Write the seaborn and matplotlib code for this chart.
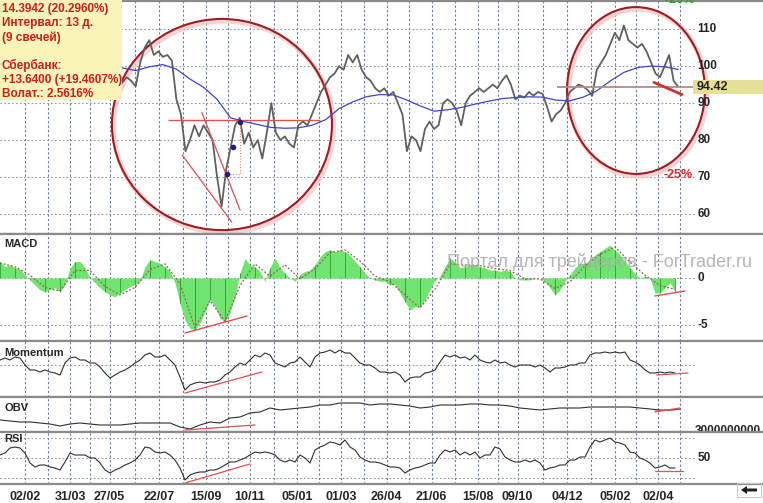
import numpy as np
import matplotlib
matplotlib.use("Agg")
import matplotlib.pyplot as plt
import seaborn as sns
from matplotlib.patches import Ellipse, Rectangle, Polygon

# ---------------- data ----------------
# x axis is in trading sessions (bars); 02/02 is bar 0
date_labels = ["02/02", "31/03", "27/05", "22/07", "15/09", "10/11", "05/01", "01/03",
               "26/04", "21/06", "15/08", "09/10", "04/12", "05/02", "02/04"]
date_ticks = [0, 40, 75, 119, 160, 199, 241, 280, 320, 360, 401, 436, 480, 522, 560]

# close prices, evenly spaced from bar 86 to bar 578
price = [95.5, 97, 96, 94.5, 101, 105, 107, 103, 104, 102.5,
         103, 101.5, 91, 87, 77, 80, 84, 81, 84, 82,
         80, 70, 62, 72, 78, 84, 86, 79, 82, 78,
         80, 75, 82, 90, 82, 80, 81, 79, 78, 84,
         85, 84, 87, 90, 93, 95, 97, 98, 100, 99,
         103, 101, 103, 99, 97, 96, 94, 93, 94, 92,
         93, 90, 87, 77, 81, 80, 77, 83, 85, 83,
         84, 90, 91, 90, 88, 84, 90, 92, 93, 94,
         93, 94, 95, 94, 96, 97.5, 95, 91, 92, 91.5,
         93, 92, 93, 92.5, 89, 85, 87, 88, 90, 93,
         94, 95, 94.5, 93.5, 92, 99, 101, 103, 106, 109,
         107, 111, 107, 106, 105, 106, 104, 101, 98, 97,
         100, 103, 96, 94.42]
price_span = (86, 578)

# moving average (blue)
ma = [99.5, 98.8, 99.8, 100.4, 99.2, 96.5, 94.3, 91, 86, 85,
      84.2, 83.4, 83.2, 83.3, 84, 85.5, 88.5, 90.3, 91.7, 92.3,
      92.2, 90.8, 89.2, 87.8, 88.2, 88.8, 89.7, 90.5, 91.2, 91.5,
      91.7, 91.6, 90.8, 90.6, 91.6, 93.3, 96, 98.3, 99.6, 100,
      99.8, 99.1]
ma_span = (86, 578)

# indicators, evenly spaced from bar -22 to bar 575
ind_span = (-22.1, 575.2)
macd = [1.75, 1.2, 1.4, 1.1, 0.9, 0.35, -0.2, -0.75, -1.25, -1.45,
        -1.25, -1.05, -1.45, -0.7, 1.05, 1.75, 1.75, 1.1, 0, -0.5,
        -1.05, -1.45, -1.8, -2.0, -1.6, -1.25, -0.9, -0.7, -0.35, 1.2,
        1.95, 1.75, 1.55, 1.2, 0.7, -0.55, -2.7, -4.45, -5.35, -5.5,
        -4.8, -3.6, -2.3, -3.05, -4.3, -4.65, -3.7, -2.0, 0.5, 2.1,
        1.4, 1.2, 0.7, -0.35, 1.1, 2.1, 1.1, 0.5, 0, -0.35,
        0.35, 0.7, 0.85, 1.4, 2.25, 2.8, 3.0, 2.8, 3.0, 2.8,
        2.45, 1.75, 1.2, 0.5, 0, -0.2, -0.35, -0.35, -0.7, -0.7,
        -1.6, -2.5, -3.4, -3.05, -3.05, -2.3, -1.25, -0.2, 0.2, 1.2,
        2.1, 1.75, 1.1, 1.2, 1.4, 1.4, 1.2, 1.1, 0.85, 0.85,
        0.7, 0.85, 0.7, 0, -0.2, -0.2, -0.2, 0, 0, -0.35,
        -1.05, -1.8, -1.25, -0.35, 0.35, 1.1, 1.55, 1.55, 1.95, 2.45,
        2.8, 3.15, 3.5, 3.0, 2.45, 1.75, 1.1, 0.5, 0, 0.2,
        0, -1.6, -1.6, -1.05, -0.5, -1.45]
signal = [1.6, 1.2, 0.3, -1.0, -1.4, 0.8, 0.8, -0.9, -1.8, -1.0,
          0.9, 1.5, -0.6, -5.3, -2.4, -4.6, -0.8, 1.5, 0.2, 1.4,
          -0.1, 1.0, 2.7, 3.0, 1.8, 0.2, -0.4, -1.8, -3.2, -1.2,
          1.5, 1.4, 1.3, 1.0, 0.8, -0.1, -0.1, -1.1, -0.4, 1.3,
          2.5, 3.3, 1.7, 0.3, -0.8, -1.2]
momentum = [105, 107, 105, 108, 107, 100, 95, 95, 93, 95,
            93, 92, 90, 102, 107, 108, 105, 105, 102, 102,
            98, 92, 87, 90, 93, 95, 98, 102, 105, 110,
            112, 108, 108, 110, 105, 100, 88, 75, 80, 82,
            83, 82, 83, 83, 85, 90, 93, 98, 102, 100,
            105, 110, 108, 112, 110, 102, 100, 98, 102, 103,
            108, 103, 98, 108, 112, 113, 115, 112, 115, 112,
            112, 107, 102, 100, 100, 97, 93, 93, 92, 93,
            90, 83, 87, 88, 88, 92, 93, 95, 103, 110,
            108, 110, 107, 108, 105, 110, 105, 103, 102, 105,
            102, 103, 100, 98, 100, 100, 100, 98, 100, 97,
            93, 97, 97, 98, 100, 100, 102, 102, 110, 112,
            112, 113, 112, 113, 112, 113, 105, 103, 100, 95,
            92, 92, 93, 92, 93, 92]
rsi = [53, 55, 60, 61, 60, 55, 45, 41, 43, 43,
       41, 40, 38, 46, 55, 53, 53, 53, 50, 50,
       45, 38, 35, 38, 40, 43, 45, 48, 53, 61,
       60, 56, 55, 56, 53, 48, 40, 28, 33, 35,
       36, 36, 38, 38, 40, 43, 46, 46, 48, 50,
       53, 56, 55, 56, 55, 53, 48, 46, 48, 46,
       53, 50, 45, 58, 61, 63, 66, 65, 63, 68,
       61, 58, 51, 48, 46, 46, 45, 43, 41, 41,
       40, 35, 38, 40, 41, 43, 45, 45, 53, 58,
       56, 58, 53, 56, 53, 56, 50, 53, 53, 61,
       59, 51, 48, 46, 46, 48, 46, 48, 45, 38,
       40, 41, 43, 43, 48, 48, 51, 51, 61, 68,
       66, 68, 70, 66, 65, 63, 56, 55, 50, 48,
       45, 40, 41, 43, 40, 40]
# on-balance volume, billions, bar -22 to bar 580
obv = [4.1, 4.0, 3.9, 3.9, 3.8, 3.7, 3.5, 3.7, 3.8, 3.7,
       3.6, 3.6, 3.6, 3.7, 3.8, 3.8, 3.8, 3.8, 3.4, 3.2,
       3.6, 3.9, 3.8, 4.3, 4.4, 4.8, 4.9, 5.3, 5.1, 5.2,
       5.3, 5.4, 5.6, 5.6, 5.8, 5.8, 5.8, 5.6, 5.7, 5.7,
       5.6, 5.5, 5.3, 5.4, 5.6, 5.6, 5.6, 5.7, 5.7, 5.6,
       5.6, 5.5, 5.3, 5.2, 5.1, 5.2, 5.3, 5.3, 5.3, 5.4,
       5.4, 5.4, 5.4, 5.4, 5.3, 5.2, 5.1, 5.1, 5.2]
obv_span = (-22.1, 579.6)
last_price = 94.42

info_lines = ["14.3942 (20.2960%)", "Интервал: 13 д.", "(9 свечей)", "",
              "Сбербанк:", "+13.6400 (+19.4607%)", "Волат.: 2.5616%"]

# ---------------- layout ----------------
W, H = 763, 503
XLIM = (-22.1, 653.1)      # full figure width
X_END = 593                # right edge of the plotted area
X_LAB = 595                # right-hand value labels

sns.set_theme(style="white")
plt.rcParams['font.family'] = ['Liberation Sans', 'DejaVu Sans']

fig = plt.figure(figsize=(W / 100, H / 100), dpi=100)
fig.patch.set_facecolor("white")


def panel(top, bottom, ylim):
    ax = fig.add_axes([0, 1 - bottom / H, 1, (bottom - top) / H])
    ax.set_xlim(*XLIM)
    ax.set_ylim(*ylim)
    ax.set_xticks([])
    ax.set_yticks([])
    for s in ("left", "right"):
        ax.spines[s].set_visible(False)
    for s in ("top", "bottom"):
        ax.spines[s].set_color("#8a8a8a")
        ax.spines[s].set_linewidth(1.6)
    grid = sorted(date_ticks + [(a + b) / 2 for a, b in zip(date_ticks[:-1], date_ticks[1:])]
                  + [date_ticks[-1] + 20])
    for g in grid:
        ax.axvline(g, color="#6c7c96", lw=0.8, ls=(0, (2, 2)), zorder=0)
    return ax


def hgrid(ax, levels):
    ax.hlines(levels, XLIM[0], X_END, colors="#8c97a8", lw=0.8, linestyles=(0, (1.5, 2)), zorder=0)


def span(rng, values):
    return np.linspace(rng[0], rng[1], len(values))


red = "#e05050"

# ---- main price panel ----
ax = panel(1, 234, (54.6, 117.6))
hgrid(ax, [60, 70, 80, 90, 100, 110])
sns.lineplot(x=span(price_span, price), y=price, ax=ax, color="#606060", lw=1.3)
sns.lineplot(x=span(ma_span, ma), y=ma, ax=ax, color="#3a48c8", lw=0.9)
for v in [60, 70, 80, 90, 100, 110]:
    ax.text(X_LAB, v, str(v), fontsize=8.5, fontweight="bold", ha="left", va="center")

ax.hlines(85.3, 126.5, 261, color=red, lw=1.0)
ax.plot([139, 183], [76.0, 57.8], color=red, lw=0.9)
ax.plot([156.6, 190.3], [87.4, 61.1], color=red, lw=0.9)
ax.plot([190.3, 190.3, 178.8], [85, 70.9, 70.9], color="#e09060", lw=0.8, ls=(0, (1, 1.5)))
ax.scatter([178.8, 184, 190.3], [70.9, 78.2, 85], s=9, color="#202080", zorder=4)
ax.hlines(last_price, 470.8, X_END, color="#b88a8a", lw=1.3)
ax.plot([556.6, 581.4], [95.6, 92.3], color="#d03030", lw=2.0, solid_capstyle="round")

for (cx, cy, w, h) in [(174.3, 84.2, 194.7, 57.1), (540.7, 93.4, 122, 45.1)]:
    ax.add_patch(Ellipse((cx + 1.5, cy - 0.6), w, h, fill=False, ec="#f3c9c9", lw=3.5, alpha=0.8))
    ax.add_patch(Ellipse((cx, cy), w, h, fill=False, ec="#9c1e22", lw=1.5))

ax.text(578, 118.0, "+25%", color="#2aa02a", fontsize=9, fontweight="bold", ha="center", va="center")
ax.text(578, 70.6, "-25%", color="#dd2a2a", fontsize=9, fontweight="bold", ha="center", va="center")

# ---- MACD ----
ax = panel(234, 341, (-6.70, 4.68))
hgrid(ax, [0, -5])
xm = span(ind_span, macd)
ax.fill_between(xm, 0, macd, color="#6fe46f", lw=0)
ax.vlines(xm[::3], 0, np.array(macd)[::3], color="#2f9a2f", lw=0.6)
sns.lineplot(x=span(ind_span, signal), y=signal, ax=ax, color="#a05a5a", lw=0.9, ls=(0, (1.5, 1.5)))
ax.plot([141.6, 196.5], [-5.85, -4.04], color=red, lw=1.0)
ax.plot([557.5, 584], [-1.91, -1.38], color=red, lw=1.0)
ax.text(X_LAB, 0, "0", fontsize=8.5, fontweight="bold", ha="left", va="center")
ax.text(X_LAB, -5, "-5", fontsize=8.5, fontweight="bold", ha="left", va="center")
ax.text(-18, 3.6, "MACD", fontsize=8, fontweight="bold", ha="left", va="center")
ax.text(373.5, 1.7, "Портал для трейдеров - ForTrader.ru", fontsize=13, color="#a9a9a9",
        alpha=0.85, ha="left", va="center", zorder=5)

# ---- Momentum ----
ax = panel(341, 397, (68, 124))
hgrid(ax, [100])
sns.lineplot(x=span(ind_span, momentum), y=momentum, ax=ax, color="#303030", lw=0.8)
ax.plot([141.6, 209.7], [72, 93], color=red, lw=0.9)
ax.plot([559, 586.7], [90, 92], color=red, lw=0.9)
ax.text(-18, 112, "Momentum", fontsize=8, fontweight="bold", ha="left", va="center")

# ---- OBV ----
ax = panel(397, 432, (2.9, 6.4))
sns.lineplot(x=span(obv_span, obv), y=obv, ax=ax, color="#303030", lw=0.8)
ax.plot([141.6, 203.5], [3.1, 3.6], color=red, lw=0.9)
ax.plot([557.5, 579.6], [4.9, 5.3], color=red, lw=0.9)
ax.plot([557.5, 575], [5.0, 5.1], color=red, lw=0.7)
ax.text(-18, 5.3, "OBV", fontsize=8, fontweight="bold", ha="left", va="center")
ax.text(X_LAB - 2, 2.95, "3000000000", fontsize=8.5, fontweight="bold", ha="left", va="center",
        clip_on=True)

# ---- RSI ----
ax = panel(432, 484, (24, 76))
hgrid(ax, [70, 50, 30])
sns.lineplot(x=span(ind_span, rsi), y=rsi, ax=ax, color="#303030", lw=0.8)
ax.plot([141.6, 199], [25, 44], color=red, lw=0.9)
ax.plot([557.5, 582.3], [37, 37], color=red, lw=0.9)
ax.text(X_LAB, 50, "50", fontsize=8.5, fontweight="bold", ha="left", va="center")
ax.text(-18, 69, "RSI", fontsize=8, fontweight="bold", ha="left", va="center")
ax.set_xticks(date_ticks)
ax.set_xticklabels(date_labels, fontsize=9, fontweight="bold")
ax.tick_params(axis="x", length=0, pad=5)

# ---- overlays in figure pixels ----
def fx(px):
    return px / W


def fy(py):
    return 1 - py / H


fig.add_artist(Rectangle((0, fy(100)), fx(122), 100 / H, transform=fig.transFigure,
                         fc="#fbf4b8", ec="none", zorder=5))
for i, line in enumerate(info_lines):
    fig.text(fx(2), fy(9 + 14.2 * i), line, color="#cc2020", fontsize=8.5, fontweight="bold",
             ha="left", va="center", zorder=6)

fig.add_artist(Rectangle((fx(693), fy(94)), fx(70), 14 / H, transform=fig.transFigure,
                         fc="#e6df96", ec="none", zorder=5))
fig.text(fx(697), fy(87), f"{last_price:.2f}", fontsize=9, fontweight="bold",
         ha="left", va="center", zorder=6)

arrow = [(741, 490), (747, 486), (747, 488.5), (757, 488.5), (757, 491.5), (747, 491.5), (747, 494)]
fig.add_artist(Polygon([(fx(a), fy(b)) for a, b in arrow], closed=True, transform=fig.transFigure,
                       fc="#202020", ec="none", zorder=6))
fig.add_artist(Rectangle((fx(737), fy(497)), fx(24), 14 / H, transform=fig.transFigure,
                         fc="none", ec="#c8c8c8", lw=0.8, zorder=6))

fig.savefig("out.png", dpi=100)
